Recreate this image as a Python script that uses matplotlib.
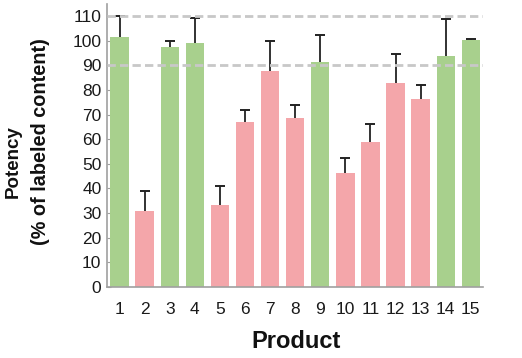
#!/usr/bin/env python3
import matplotlib

matplotlib.use("Agg")
import matplotlib.pyplot as plt


products = list(range(1, 16))
potency = [101.5, 31, 97.4, 99.1, 33.4, 67, 87.8, 68.6, 91.4, 46.1, 59, 82.8, 76.3, 93.7, 100.1]
upper = [110, 39, 100, 109, 41, 71.8, 100, 73.8, 102.4, 52.5, 66.1, 94.5, 82.1, 108.6, 100.7]
passed = [True, False, True, True, False, False, False, False, True, False, False, False, False, True, True]
limits = [90, 110]

GREEN = "#a8d08d"
PINK = "#f4a6aa"


def main():
    plt.rcParams["font.family"] = ["Liberation Sans", "DejaVu Sans"]
    fig = plt.figure(figsize=(5.22, 3.58), dpi=100)
    ax = fig.add_axes([0.205, 0.198, 0.721, 0.792])

    colors = [GREEN if p else PINK for p in passed]
    ax.bar(products, potency, width=0.73, color=colors, zorder=2)
    # upper error only: stem from bar top, cap at the upper value
    ax.vlines(products, potency, upper, color="#222222", lw=1.3, zorder=3)
    ax.plot(products, upper, ls="none", marker="_", ms=7, mew=1.4,
            color="#222222", zorder=3)
    for lim in limits:
        ax.axhline(lim, color="#c8c8c8", lw=2, linestyle=(0, (3, 1.5)), zorder=4)

    ax.set_xlim(0.5, 15.5)
    ax.set_ylim(0, 115)
    ax.set_xticks(products)
    ax.set_yticks(range(0, 111, 10))
    ax.tick_params(axis="x", length=0, labelsize=12.5, pad=11, colors="#1a1a1a")
    ax.tick_params(axis="y", direction="in", length=3, color="#a0a0a0",
                   labelsize=12.5, labelcolor="#1a1a1a", pad=4)
    for side in ("top", "right"):
        ax.spines[side].set_visible(False)
    for side in ("left", "bottom"):
        ax.spines[side].set_color("#a0a0a0")
        ax.spines[side].set_linewidth(1.2)

    fig.text(296 / 522, 1 - 342 / 358, "Product", ha="center", va="center",
             fontsize=17, fontweight="bold", color="#111111")
    fig.text(13 / 522, 1 - 162 / 358, "Potency", ha="center", va="center",
             rotation=90, fontsize=13.5, fontweight="bold", color="#111111")
    fig.text(41 / 522, 1 - 142 / 358, "(% of labeled content)", ha="center",
             va="center", rotation=90, fontsize=14.3, fontweight="bold",
             color="#111111")

    fig.savefig("out.png", dpi=100)
    plt.close(fig)


if __name__ == "__main__":
    main()
